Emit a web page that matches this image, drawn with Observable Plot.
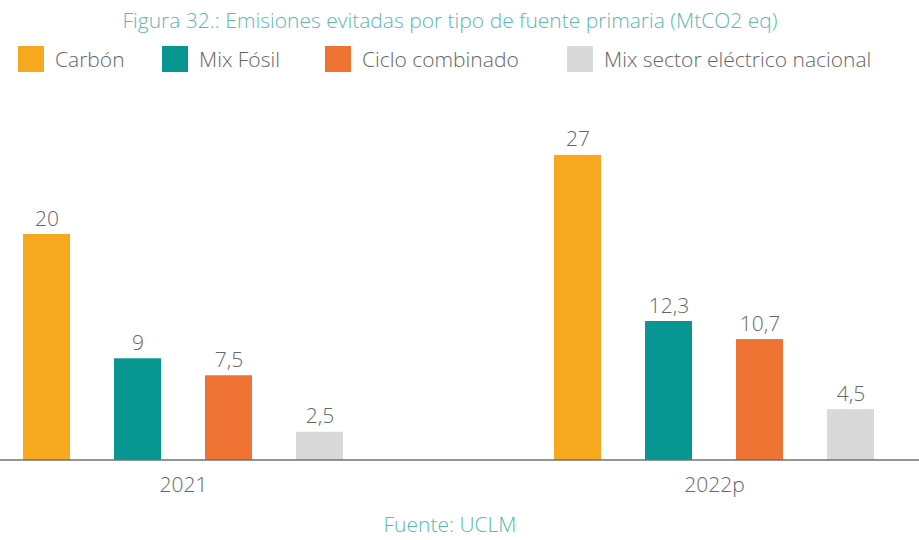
<!DOCTYPE html>
<html><head><meta charset="utf-8">
<script src="https://cdn.jsdelivr.net/npm/d3@7"></script>
<script src="https://cdn.jsdelivr.net/npm/@observablehq/plot@0.6"></script>
<style>
body{margin:0;background:#fff;font-family:"Open Sans",sans-serif;font-weight:300;}
#wrap{position:relative;width:919px;height:540px;overflow:hidden;background:#fff;}
#title{position:absolute;top:6px;left:0;width:900px;text-align:center;font-size:21px;line-height:28px;color:#5db7b3;}
.item{position:absolute;top:46px;height:26px;display:flex;align-items:center;font-size:21px;color:#666;white-space:nowrap;}
.sw{width:26px;height:26px;margin-right:11px;flex:none;}
#chart{position:absolute;top:80px;left:0;}
#caption{position:absolute;top:510px;left:0;width:900px;text-align:center;font-size:21px;line-height:28px;color:#5db7b3;}
</style></head>
<body>
<div id="wrap">
  <div id="title">Figura 32.: Emisiones evitadas por tipo de fuente primaria (MtCO2 eq)</div>
  <div id="legend"></div>
  <div id="chart"></div>
  <div id="caption">Fuente: UCLM</div>
</div>
<script>
const years = ["2021", "2022p"];
const fuentes = ["Carbón", "Mix Fósil", "Ciclo combinado", "Mix sector eléctrico nacional"];
const valores2021 = [20, 9, 7.5, 2.5];
const valores2022 = [27, 12.3, 10.7, 4.5];
const colores = ["#f6a81f", "#079691", "#ef7333", "#d9d9d9"];
const legendLeft = [18, 162, 325, 567];

const data = [];
fuentes.forEach((f, i) => {
  data.push({year: years[0], fuente: f, value: valores2021[i]});
  data.push({year: years[1], fuente: f, value: valores2022[i]});
});
const fmt = v => String(v).replace(".", ",");

const legend = document.getElementById("legend");
fuentes.forEach((f, i) => {
  const it = document.createElement("div");
  it.className = "item";
  it.style.left = legendLeft[i] + "px";
  it.innerHTML = `<span class="sw" style="background:${colores[i]}"></span><span>${f}</span>`;
  legend.appendChild(it);
});

const plot = Plot.plot({
  width: 919, height: 420,
  marginLeft: 0, marginRight: 22, marginTop: 41, marginBottom: 40,
  style: {fontFamily: "'Open Sans', sans-serif", fontWeight: 300, background: "transparent"},
  fx: {domain: years, paddingInner: 0.311, paddingOuter: 0, label: null},
  x: {domain: fuentes, paddingInner: 0.486, paddingOuter: 0.243, axis: null},
  y: {domain: [0, 30], axis: null},
  color: {domain: fuentes, range: colores},
  marks: [
    Plot.barY(data, {fx: "year", x: "fuente", y: "value", fill: "fuente"}),
    Plot.text(data, {fx: "year", x: "fuente", y: "value", text: d => fmt(d.value), lineAnchor: "bottom", dy: -9, fontSize: 21, fill: "#666", fontWeight: 300}),
    Plot.axisFx({anchor: "bottom", tickSize: 0, tickPadding: 17, fontSize: 21, color: "#666", label: null, fontWeight: 300})
  ]
});
document.getElementById("chart").appendChild(plot);
const y0 = plot.scale("y").apply(0);
d3.select(plot).append("line")
  .attr("x1", 0).attr("x2", 919).attr("y1", y0).attr("y2", y0)
  .attr("stroke", "#707070").attr("stroke-width", 1.6);
</script>
</body></html>
